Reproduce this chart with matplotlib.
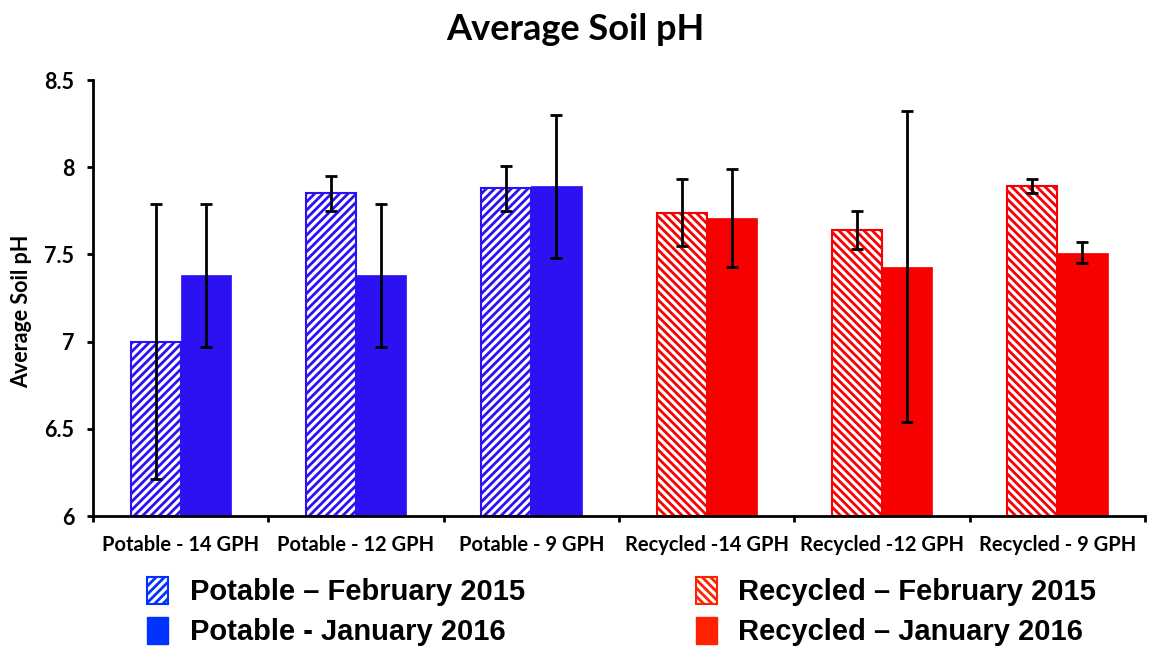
import matplotlib
matplotlib.use("Agg")
import matplotlib.pyplot as plt
from matplotlib import font_manager
from matplotlib.patches import Patch
import numpy as np

# Data
categories = ["Potable - 14 GPH", "Potable - 12 GPH", "Potable - 9 GPH",
              "Recycled -14 GPH", "Recycled -12 GPH", "Recycled - 9 GPH"]
feb_2015 = [7.00, 7.85, 7.88, 7.74, 7.64, 7.89]
feb_2015_err = [0.79, 0.10, 0.13, 0.19, 0.11, 0.04]
jan_2016 = [7.38, 7.38, 7.89, 7.71, 7.43, 7.51]
jan_2016_err = [0.41, 0.41, 0.41, 0.28, 0.89, 0.06]
yticks = [6, 6.5, 7, 7.5, 8, 8.5]
ytick_labels = ["6", "6.5", "7", "7.5", "8", "8.5"]
legend_labels = ["Potable \u2013 February 2015", "Potable - January 2016",
                 "Recycled \u2013 February 2015", "Recycled \u2013 January 2016"]

BLUE = "#2c12f2"
RED = "#f80000"
bar_colors = [BLUE, BLUE, BLUE, RED, RED, RED]
hatches = ["////", "////", "////", "\\\\\\\\", "\\\\\\\\", "\\\\\\\\"]

names = {f.name for f in font_manager.fontManager.ttflist}
main_font = "Lato" if "Lato" in names else "DejaVu Sans"
legend_font = ["Liberation Sans Narrow", "Liberation Sans", "DejaVu Sans"]
legend_font = [f for f in legend_font if f in names] or ["DejaVu Sans"]

plt.rcParams["font.family"] = main_font
plt.rcParams["hatch.linewidth"] = 2.0

fig = plt.figure(figsize=(11.5, 6.46), dpi=100)
ax = fig.add_axes([0.0809, 0.2012, 0.9148, 0.6748])

x = np.arange(len(categories))
w = 0.286

for i in range(len(categories)):
    c = bar_colors[i]
    ax.bar(x[i] - w / 2, feb_2015[i] - 6, w, bottom=6, facecolor="white",
           edgecolor=c, hatch=hatches[i], linewidth=1.5, zorder=2)
    ax.bar(x[i] + w / 2, jan_2016[i] - 6, w, bottom=6, color=c,
           edgecolor=c, linewidth=0.5, zorder=2)

ax.errorbar(x - w / 2, feb_2015, yerr=feb_2015_err, fmt="none", ecolor="black",
            elinewidth=2, capsize=4.5, capthick=2, zorder=3)
ax.errorbar(x + w / 2, jan_2016, yerr=jan_2016_err, fmt="none", ecolor="black",
            elinewidth=2, capsize=4.5, capthick=2, zorder=3)

ax.set_xlim(-0.5, len(categories) - 0.5)
ax.set_ylim(6, 8.5)
ax.set_yticks(yticks)
ax.set_yticklabels(ytick_labels, fontsize=15.5, fontweight="bold")
ax.set_xticks(np.arange(-0.5, len(categories), 1.0))
ax.set_xticklabels([])
ax.set_xticks(x, minor=True)
ax.set_xticklabels(categories, minor=True, fontsize=14.5, fontweight="bold")
ax.tick_params(axis="x", which="minor", length=0, pad=14)
ax.tick_params(axis="x", which="major", length=4.5, width=2, direction="out")
ax.tick_params(axis="y", length=4.5, width=2, direction="out", pad=9)

for s in ["top", "right"]:
    ax.spines[s].set_visible(False)
for s in ["left", "bottom"]:
    ax.spines[s].set_linewidth(2)

ax.set_ylabel("Average Soil pH", fontsize=15.5, fontweight="bold")
ax.yaxis.set_label_coords(-0.058, 0.47)
fig.text(0.5, 0.955, "Average Soil pH", ha="center", va="center",
         fontsize=26, fontweight="bold")

handles = [
    Patch(facecolor="white", edgecolor="#0033ff", hatch="////", linewidth=1.5),
    Patch(facecolor="#0033ff", edgecolor="#0033ff"),
    Patch(facecolor="white", edgecolor="#ff2200", hatch="\\\\\\\\", linewidth=1.5),
    Patch(facecolor="#ff2200", edgecolor="#ff2200"),
]
fig.legend(handles, legend_labels, ncol=2, loc="center left",
           bbox_to_anchor=(0.1278, 0.0534), borderpad=0, borderaxespad=0,
           frameon=False, handlelength=0.72, handleheight=1.05, handletextpad=0.75,
           columnspacing=5.85, labelspacing=0.36,
           prop={"family": legend_font, "weight": "bold", "size": 21})

fig.savefig("out.png", dpi=100)
